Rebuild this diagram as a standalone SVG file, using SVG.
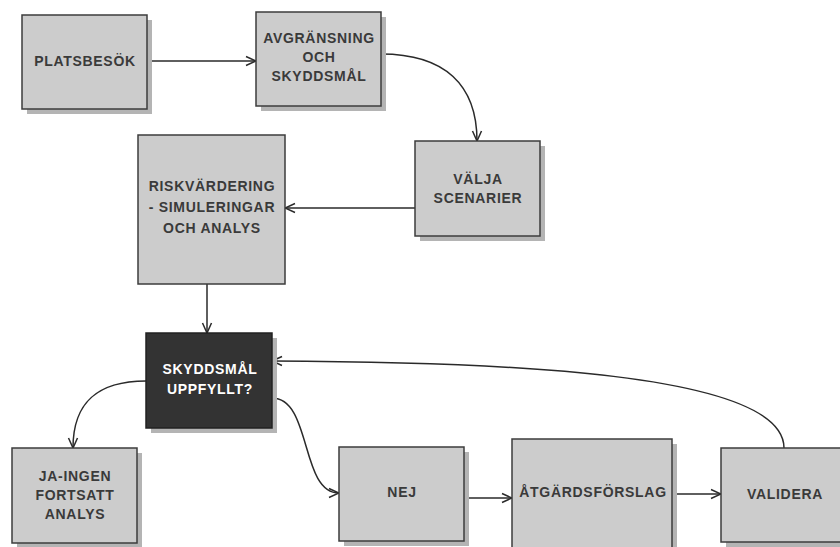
<svg xmlns="http://www.w3.org/2000/svg" width="840" height="547" viewBox="0 0 840 547">
<defs>
<style>
.box{fill:#cccccc;stroke:#3c3c3c;stroke-width:1.5}
.dark{fill:#333333;stroke:#222222;stroke-width:1.5}
.sh{fill:#b4b4b4}
.t{font-family:"Liberation Sans",Arial,sans-serif;font-size:14px;font-weight:bold;letter-spacing:0.7px;fill:#3a3a3a;text-anchor:middle}
.w{fill:#ffffff}
.c{fill:none;stroke:#2a2a2a;stroke-width:1.5}
</style>
<marker id="ar" viewBox="0 0 12 12" markerWidth="12" markerHeight="12" refX="11" refY="6" orient="auto" markerUnits="userSpaceOnUse">
<path d="M1,1.5 L11,6 L1,10.5" fill="none" stroke="#2a2a2a" stroke-width="1.5"/>
</marker>
</defs>
<rect width="840" height="547" fill="#ffffff"/>
<g id="connectors">
<path class="c" d="M147,61 L256,61" marker-end="url(#ar)"/>
<path class="c" d="M381,54 C445,54 477,85 477,141" marker-end="url(#ar)"/>
<path class="c" d="M415,208 L285,208" marker-end="url(#ar)"/>
<path class="c" d="M207,284 L207,333" marker-end="url(#ar)"/>
<path class="c" d="M146,381 C100,381 73,400 73,448" marker-end="url(#ar)"/>
<path class="c" d="M272,398 C312,398 300,493 339,493" marker-end="url(#ar)"/>
<path class="c" d="M464,498 L512,498" marker-end="url(#ar)"/>
<path class="c" d="M672,494 L721,494" marker-end="url(#ar)"/>
<path class="c" d="M784,448 C784,372 500,362 272,361" marker-end="url(#ar)"/>
</g>
<g id="platsbesok">
<rect class="sh" x="27" y="20" width="125" height="94"/>
<rect class="box" x="22" y="15" width="125" height="94"/>
<text class="t" x="85" y="66">PLATSBESÖK</text>
</g>
<g id="avgransning">
<rect class="sh" x="261" y="17" width="125" height="94"/>
<rect class="box" x="256" y="12" width="125" height="94"/>
<text class="t" x="319" y="43">AVGRÄNSNING</text>
<text class="t" x="319" y="62">OCH</text>
<text class="t" x="319" y="81">SKYDDSMÅL</text>
</g>
<g id="valja">
<rect class="sh" x="420" y="146" width="125" height="95"/>
<rect class="box" x="415" y="141" width="125" height="95"/>
<text class="t" x="478" y="184">VÄLJA</text>
<text class="t" x="478" y="203">SCENARIER</text>
</g>
<g id="riskvardering">
<rect class="box" x="138" y="135" width="147" height="149"/>
<text class="t" x="212" y="191">RISKVÄRDERING</text>
<text class="t" x="212" y="212">- SIMULERINGAR</text>
<text class="t" x="212" y="233">OCH ANALYS</text>
</g>
<g id="skyddsmal">
<rect class="sh" x="151" y="338" width="126" height="95"/>
<rect class="dark" x="146" y="333" width="126" height="95"/>
<text class="t w" x="210" y="374">SKYDDSMÅL</text>
<text class="t w" x="210" y="394">UPPFYLLT?</text>
</g>
<g id="ja-ingen">
<rect class="sh" x="17" y="453" width="125" height="95"/>
<rect class="box" x="12" y="448" width="125" height="95"/>
<text class="t" x="75" y="481">JA-INGEN</text>
<text class="t" x="75" y="500">FORTSATT</text>
<text class="t" x="75" y="519">ANALYS</text>
</g>
<g id="nej">
<rect class="sh" x="344" y="452" width="125" height="94"/>
<rect class="box" x="339" y="447" width="125" height="94"/>
<text class="t" x="402" y="497">NEJ</text>
</g>
<g id="atgardsforslag">
<rect class="sh" x="517" y="444" width="160" height="120"/>
<rect class="box" x="512" y="439" width="160" height="120"/>
<text class="t" x="593" y="497">ÅTGÄRDSFÖRSLAG</text>
</g>
<g id="validera">
<rect class="sh" x="726" y="453" width="126" height="94"/>
<rect class="box" x="721" y="448" width="126" height="94"/>
<text class="t" x="785" y="499">VALIDERA</text>
</g>
</svg>
